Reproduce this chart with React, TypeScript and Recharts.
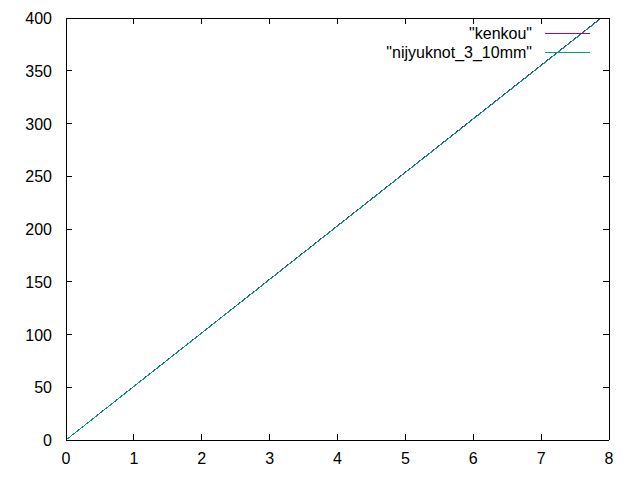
import { Legend, Line, LineChart, XAxis, YAxis } from 'recharts'

const X_VALUES = [0, 1, 2, 3, 4, 5, 6, 7, 8]
const KENKOU = [0, 50.9, 101.6, 152.4, 203.1, 253.8, 304.6, 355.3, 406.0]
const NIJYUKNOT = [0, 50.7, 101.4, 152.1, 202.8, 253.5, 304.2, 354.9, 405.6]
const X_TICKS = [0, 1, 2, 3, 4, 5, 6, 7, 8]
const Y_TICKS = [0, 50, 100, 150, 200, 250, 300, 350, 400]

const data = X_VALUES.map((x, i) => ({ x, kenkou: KENKOU[i], nijyuknot: NIJYUKNOT[i] }))

const FONT = '"Liberation Sans", Arial, sans-serif'
const TICK = 6

// gnuplot-style ticks: drawn inward from the border, labels only on bottom/left
function BottomTick({ x, y, payload }: any) {
  return (
    <g>
      <line x1={x} y1={y} x2={x} y2={y - TICK} stroke="#000" shapeRendering="crispEdges" />
      <text x={x} y={y + 24} textAnchor="middle" fontSize={16} fontFamily={FONT} fill="#000">
        {payload.value}
      </text>
    </g>
  )
}

function TopTick({ x, y }: any) {
  return <line x1={x} y1={y} x2={x} y2={y + TICK} stroke="#000" shapeRendering="crispEdges" />
}

function LeftTick({ x, y, payload }: any) {
  return (
    <g>
      <line x1={x} y1={y} x2={x + TICK} y2={y} stroke="#000" shapeRendering="crispEdges" />
      <text x={x - 14} y={y + 6} textAnchor="end" fontSize={16} fontFamily={FONT} fill="#000">
        {payload.value}
      </text>
    </g>
  )
}

function RightTick({ x, y }: any) {
  return <line x1={x} y1={y} x2={x - TICK} y2={y} stroke="#000" shapeRendering="crispEdges" />
}

function KeyBox({ payload }: any) {
  return (
    <svg width={640} height={70} style={{ display: 'block' }}>
      {(payload ?? []).map((p: any, i: number) => {
        const cy = 33 + i * 19
        return (
          <g key={p.value}>
            <text x={532} y={cy + 5.5} textAnchor="end" fontSize={16} fontFamily={FONT} fill="#000">
              {p.value}
            </text>
            <line x1={545} y1={cy} x2={590} y2={cy} stroke={p.color} shapeRendering="crispEdges" />
          </g>
        )
      })}
    </svg>
  )
}

const axisLine = { stroke: '#000', shapeRendering: 'crispEdges' }

export default function App() {
  return (
    <div style={{ position: 'absolute', left: 0, top: 0, background: '#fff' }}>
      <LineChart width={640} height={480} data={data} margin={{ top: 17, right: 30, bottom: 0, left: 0 }}>
        <XAxis
          xAxisId="bottom"
          dataKey="x"
          type="number"
          domain={[0, 8]}
          ticks={X_TICKS}
          allowDataOverflow
          height={40}
          tickSize={0}
          tickMargin={0}
          tick={<BottomTick />}
          axisLine={axisLine}
          tickLine={false}
        />
        <XAxis
          xAxisId="top"
          orientation="top"
          dataKey="x"
          type="number"
          domain={[0, 8]}
          ticks={X_TICKS}
          allowDataOverflow
          height={1}
          tickSize={0}
          tickMargin={0}
          tick={<TopTick />}
          axisLine={axisLine}
          tickLine={false}
        />
        <YAxis
          yAxisId="left"
          type="number"
          domain={[0, 400]}
          ticks={Y_TICKS}
          allowDataOverflow
          width={66}
          tickSize={0}
          tickMargin={0}
          tick={<LeftTick />}
          axisLine={axisLine}
          tickLine={false}
        />
        <YAxis
          yAxisId="right"
          orientation="right"
          type="number"
          domain={[0, 400]}
          ticks={Y_TICKS}
          allowDataOverflow
          width={1}
          tickSize={0}
          tickMargin={0}
          tick={<RightTick />}
          axisLine={axisLine}
          tickLine={false}
        />
        <Legend
          layout="horizontal"
          verticalAlign="middle"
          content={<KeyBox />}
          wrapperStyle={{ left: 0, top: 0, width: 640, height: 70 }}
        />
        <Line
          xAxisId="bottom"
          yAxisId="left"
          dataKey="kenkou"
          name={'"kenkou"'}
          stroke="#9400d3"
          strokeWidth={1}
          shapeRendering="crispEdges"
          dot={false}
          isAnimationActive={false}
        />
        <Line
          xAxisId="bottom"
          yAxisId="left"
          dataKey="nijyuknot"
          name={'"nijyuknot_3_10mm"'}
          stroke="#009e73"
          strokeWidth={1}
          shapeRendering="crispEdges"
          dot={false}
          isAnimationActive={false}
        />
      </LineChart>
    </div>
  )
}
